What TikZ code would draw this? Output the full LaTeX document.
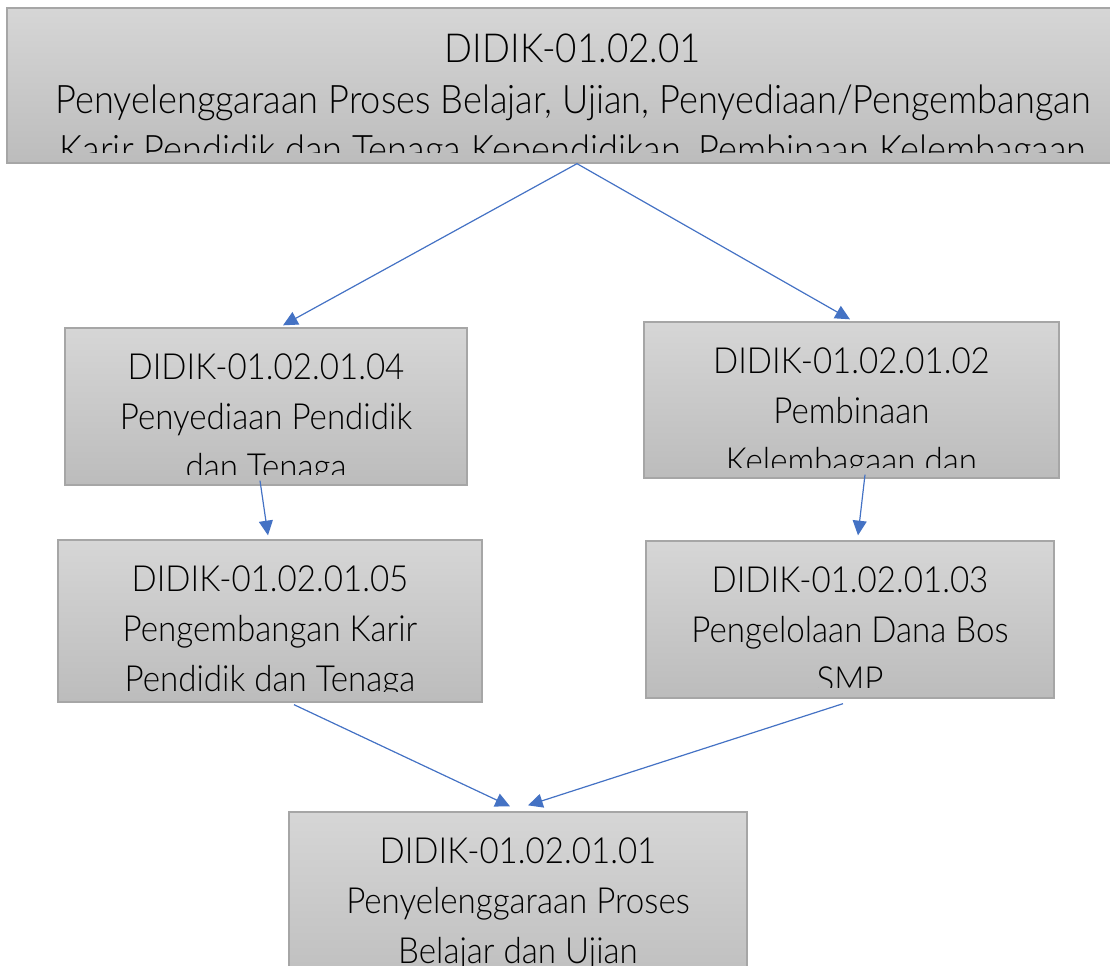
\documentclass[tikz,border=0pt]{standalone}
\usepackage{fontspec}
\setmainfont{Lato}[UprightFont={* Light}, FakeStretch=0.92]
\usepackage{tikz}
\usetikzlibrary{arrows.meta}
\definecolor{boxedge}{HTML}{A6A6A6}
\definecolor{boxtop}{HTML}{D6D6D6}
\definecolor{boxbottom}{HTML}{BCBCBC}
\definecolor{linkblue}{HTML}{4472C4}
\def\px{0.75pt}
\newcommand\boxfnt{\fontsize{27}{32}\selectfont}
\newcommand\titlefnt{\fontsize{30}{35}\selectfont}
\newcommand\topfnt{\fontsize{29.5}{34}\selectfont}
\tikzstyle{box}=[draw=boxedge, line width=1pt, top color=boxtop, bottom color=boxbottom, inner sep=0pt]
\tikzstyle{link}=[draw=linkblue, line width=0.9pt, -{Triangle[length=11pt, width=10.5pt]}]
\tikzset{boxtext/.style={path picture={
    \clip ([yshift=11*\px]path picture bounding box.south west) rectangle (path picture bounding box.north east);
    \foreach \txt [count=\i] in {#1}
      \node[anchor=base, inner sep=0pt, font=\boxfnt] at ([yshift=-(51+50*(\i-1))*\px]path picture bounding box.north) {\txt};
  }}}

\begin{document}
\begin{tikzpicture}[x=0.75pt, y=-0.75pt]
    \useasboundingbox (0,0) rectangle (1110,966);
    \node[box, minimum width=1132*\px, minimum height=155*\px, path picture={
        \clip ([yshift=10*\px]path picture bounding box.south west) rectangle (path picture bounding box.north east);
        \node[anchor=base, inner sep=0pt, font=\titlefnt] at ([yshift=-55*\px]path picture bounding box.north) {DIDIK-01.02.01};
        \node[anchor=base, inner sep=0pt, font=\topfnt] at ([yshift=-106*\px]path picture bounding box.north) {Penyelenggaraan Proses Belajar, Ujian, Penyediaan/Pengembangan};
        \node[anchor=base, inner sep=0pt, font=\topfnt] at ([yshift=-156*\px]path picture bounding box.north) {Karir Pendidik dan Tenaga Kependidikan, Pembinaan Kelembagaan};
      }] (top) at (573,85.5) {};
    \node[box, minimum width=402*\px, minimum height=157*\px,
      boxtext={DIDIK-01.02.01.04, Penyediaan Pendidik, dan Tenaga}] (b04) at (266,406.5) {};
    \node[box, minimum width=415*\px, minimum height=156*\px,
      boxtext={DIDIK-01.02.01.02, Pembinaan, Kelembagaan dan}] (b02) at (851.5,400) {};
    \node[box, minimum width=424*\px, minimum height=162*\px,
      boxtext={DIDIK-01.02.01.05, Pengembangan Karir, Pendidik dan Tenaga}] (b05) at (270,621) {};
    \node[box, minimum width=408*\px, minimum height=157*\px,
      boxtext={DIDIK-01.02.01.03, Pengelolaan Dana Bos, SMP}] (b03) at (850,619.5) {};
    \node[box, minimum width=458*\px, minimum height=190*\px,
      boxtext={DIDIK-01.02.01.01, Penyelenggaraan Proses, Belajar dan Ujian}] (b01) at (518,907) {};
    \foreach \from/\fx/\fy/\to/\tx/\ty in
      {top/4/0/b04/17/2, top/4/0/b02/-1.5/2, b04/-6/5/b05/-2/4,
       b02/13.5/4/b03/8/5, b05/24/-2/b01/-8/5, b03/-7/-5/b01/10/6}
    \draw[link] ([xshift=\fx*\px, yshift=\fy*\px]\from.south) -- ([xshift=\tx*\px, yshift=\ty*\px]\to.north);
\end{tikzpicture}
\end{document}
